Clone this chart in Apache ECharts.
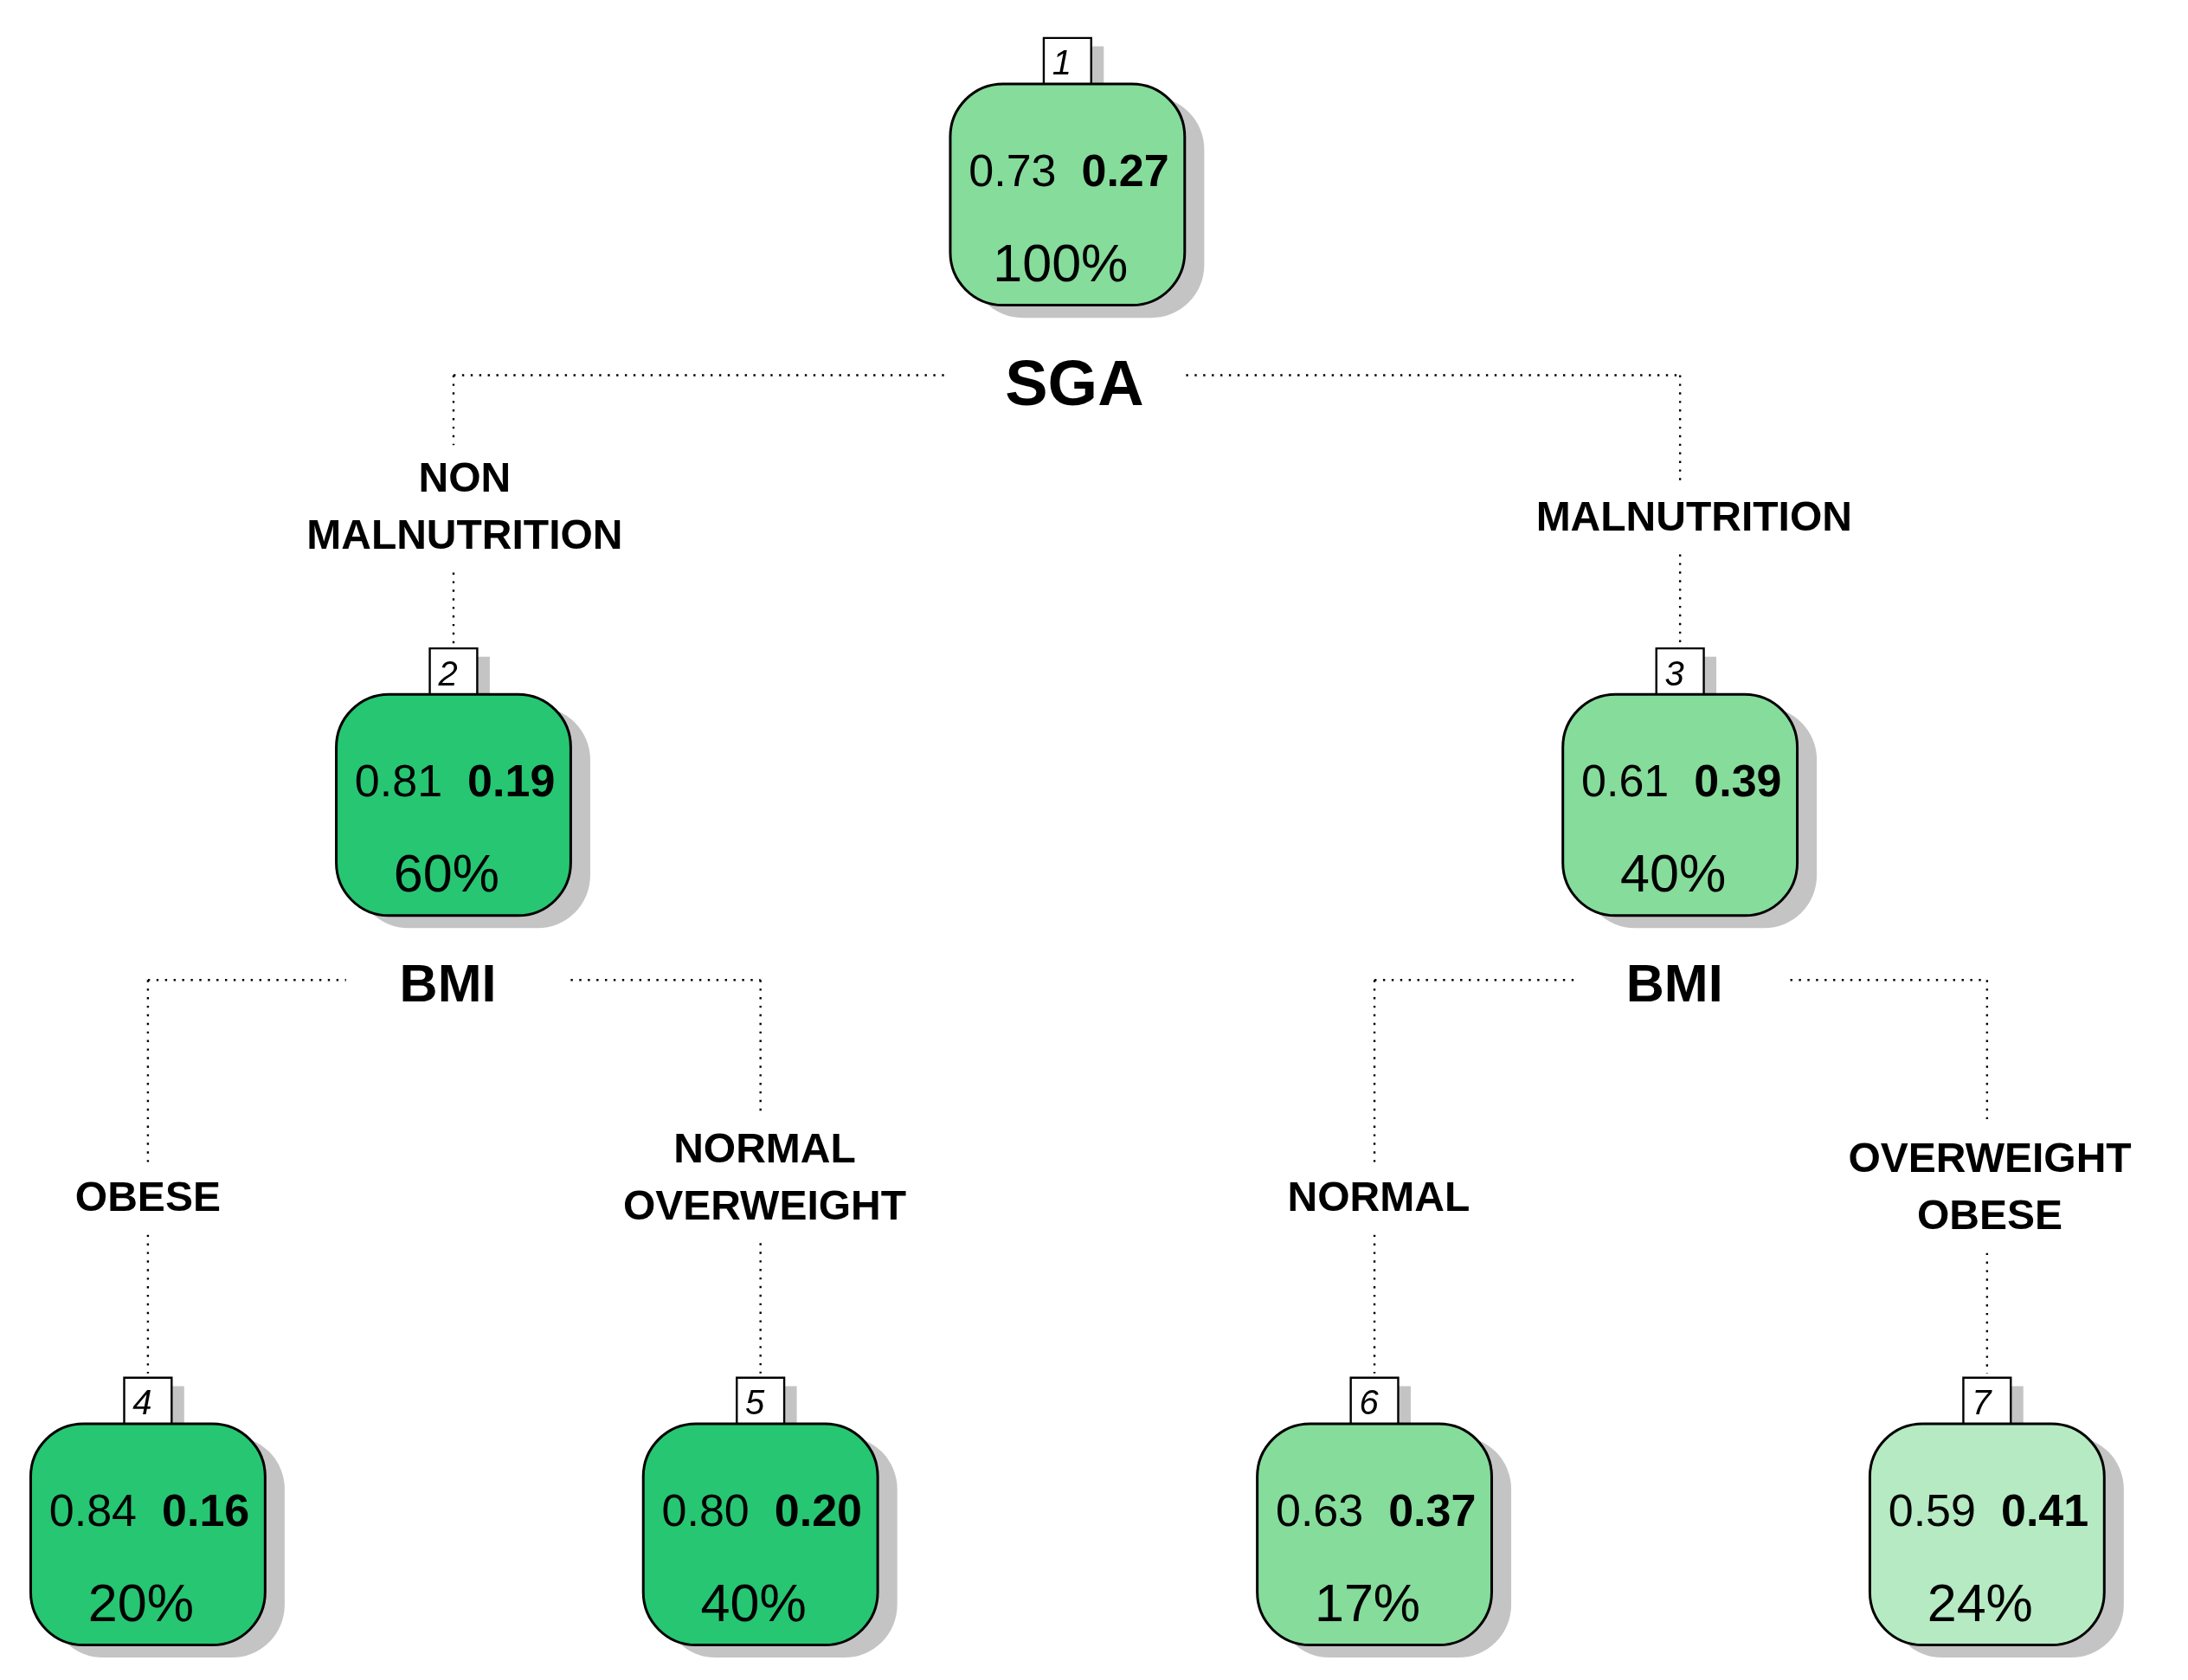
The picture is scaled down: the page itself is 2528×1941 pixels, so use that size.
<!DOCTYPE html>
<html><head><meta charset="utf-8">
<script src="https://cdn.jsdelivr.net/npm/echarts@6/dist/echarts.min.js"></script>
<style>html,body{margin:0;padding:0;background:#fff}#c{width:2528px;height:1941px}</style>
</head><body><div id="c"></div>
<script>
// ---- data ----
const nodeIds   = [1, 2, 3, 4, 5, 6, 7];
const nodeParent= [0, 1, 1, 2, 2, 3, 3];
const probNo    = ['0.73','0.81','0.61','0.84','0.80','0.63','0.59'];
const probYes   = ['0.27','0.19','0.39','0.16','0.20','0.37','0.41'];
const nodePct   = ['100%','60%','40%','20%','40%','17%','24%'];
const splitVars = {1:'SGA', 2:'BMI', 3:'BMI'};
const branchLabels = {2:['NON','MALNUTRITION'], 3:['MALNUTRITION'], 4:['OBESE'], 5:['NORMAL','OVERWEIGHT'], 6:['NORMAL'], 7:['OVERWEIGHT','OBESE']};
// ---- layout (reference units 1568x1200) ----
const nodeX = [765, 325, 1204, 106, 545, 985, 1424];
const nodeY = [60, 496, 496, 1017, 1017, 1017, 1017];
const fills = ['#86dc9b','#27c672','#86dc9b','#27c672','#27c672','#86dc9b','#b6eac3'];
const splitY = {1:268, 2:700, 3:700};
const splitGap = {1:[87,85], 2:[77,84], 3:[74,79]};
const labelY = {2:[343,384], 3:[371], 4:[857], 5:[822,863], 6:[857], 7:[829,870]};
const labelDX = {2:8, 3:10, 4:0, 5:3, 6:3, 7:2};
const S = 2528/1568;
const FF = 'Liberation Sans, Arial, sans-serif';
const BW=168, BH=158;

const chart = echarts.init(document.getElementById('c'));
function dotted(p){return {type:'polyline',shape:{points:p},style:{stroke:'#000',lineWidth:2.4,lineDash:[2.4,7.5],fill:null}};}

const nodeData = nodeIds.map((id,i)=>[nodeX[i], nodeY[i], i]);
const edgeData = nodeIds.filter(id=>splitVars[id]).map(id=>[nodeX[id-1], splitY[id], id]);

chart.setOption({
  animation:false,
  grid:{left:0,right:0,top:0,bottom:0},
  xAxis:{type:'value',min:0,max:1568,show:false},
  yAxis:{type:'value',min:0,max:1200,inverse:true,show:false},
  series:[
  {type:'custom',data:edgeData,renderItem:function(params,api){
    const id=api.value(2); const c=[];
    const py=api.value(1), px=api.value(0);
    const P=(x,y)=>api.coord([x,y]);
    const L=2*id, R=2*id+1;
    const lx=nodeX[L-1], rx=nodeX[R-1];
    const g=splitGap[id];
    c.push(dotted([P(lx,py),P(px-g[0],py)]));
    c.push(dotted([P(px+g[1],py),P(rx,py)]));
    [L,R].forEach(ch=>{
      const x=nodeX[ch-1], ly=labelY[ch];
      c.push(dotted([P(x,py),P(x,ly[0]-25)]));
      c.push(dotted([P(x,ly[ly.length-1]+25),P(x,nodeY[ch-1]-36)]));
      ly.forEach((yy,k)=>{const q=P(x+labelDX[ch],yy);
        c.push({type:'text',x:q[0],y:q[1],style:{text:branchLabels[ch][k],font:'bold '+Math.round(30*S)+'px '+FF,fill:'#000',align:'center',verticalAlign:'middle'}});});
    });
    const t=P(px+(id===1?5:-4),py+(id===1?9:5));
    c.push({type:'text',x:t[0],y:t[1],style:{text:splitVars[id],font:'bold '+Math.round((id===1?46:38)*S)+'px '+FF,fill:'#000',align:'center',verticalAlign:'middle'}});
    return {type:'group',children:c};
  }},
  {type:'custom',data:nodeData,renderItem:function(params,api){
    const i=api.value(2);
    const tl=api.coord([api.value(0)-BW/2,api.value(1)]);
    const br=api.coord([api.value(0)+BW/2,api.value(1)+BH]);
    const w=br[0]-tl[0], h=br[1]-tl[1];
    const r=Math.round(38*S);
    const sx=14*S, sy=9*S;
    const lw=34*S, lh=33*S, lx=tl[0]+w/2-lw/2, ly=tl[1]-lh;
    const cx=tl[0]+w/2;
    return {type:'group',children:[
      {type:'rect',shape:{x:lx+9*S,y:ly+6*S,width:lw,height:lh},style:{fill:'#c4c4c4'}},
      {type:'rect',shape:{x:tl[0]+sx,y:tl[1]+sy,width:w,height:h,r:r},style:{fill:'#c4c4c4'}},
      {type:'rect',shape:{x:lx,y:ly,width:lw,height:lh+2},style:{fill:'#fff',stroke:'#000',lineWidth:2.4}},
      {type:'rect',shape:{x:tl[0],y:tl[1],width:w,height:h,r:r},style:{fill:fills[i],stroke:'#000',lineWidth:3}},
      {type:'text',x:cx-4*S,y:ly+lh/2+3*S,style:{text:String(nodeIds[i]),font:'italic '+Math.round(25*S)+'px '+FF,fill:'#000',align:'center',verticalAlign:'middle'}},
      {type:'text',x:cx-8*S,y:tl[1]+64*S,style:{text:probNo[i],font:Math.round(32*S)+'px '+FF,fill:'#000',align:'right',verticalAlign:'middle'}},
      {type:'text',x:cx+10*S,y:tl[1]+64*S,style:{text:probYes[i],font:'bold '+Math.round(32*S)+'px '+FF,fill:'#000',align:'left',verticalAlign:'middle'}},
      {type:'text',x:cx-5*S,y:tl[1]+131*S,style:{text:nodePct[i],font:Math.round(38*S)+'px '+FF,fill:'#000',align:'center',verticalAlign:'middle'}}
    ]};
  }}
  ]
});
</script></body></html>
